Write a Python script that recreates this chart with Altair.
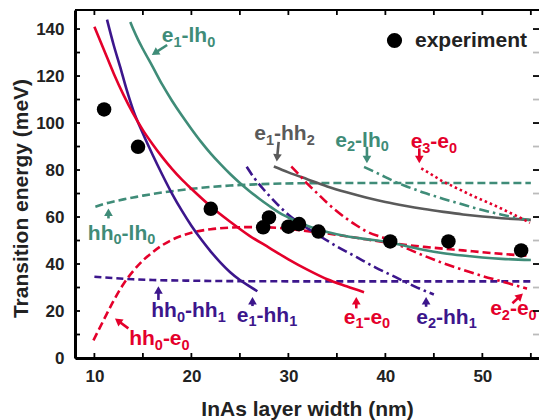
import math
import altair as alt
import pandas as pd

FONT = "Liberation Sans, Arial, Helvetica, sans-serif"
GREEN = "#3f8c78"
RED = "#e4002b"
PURPLE = "#3c168c"
GRAY = "#5a5a5a"
TXT = "#222222"

# ---------------- data ----------------
exp_x = [11.0, 14.5, 22.0, 27.4, 28.0, 30.0, 31.1, 33.1, 40.5, 46.5, 54.0]
exp_y = [105.8, 89.9, 63.5, 55.6, 59.8, 55.9, 57.0, 53.8, 49.6, 49.6, 45.8]

e1_e0_x = [10.0, 11, 12, 13, 14, 15, 16, 17, 18, 19, 20, 22, 24, 26, 28, 30, 32, 34, 36, 37.8]
e1_e0_y = [141, 131, 121, 112, 104, 97, 91, 85.5, 80.5, 76, 72, 64.5, 58, 52, 47, 42, 37.5, 33.5, 30.5, 28]

e1_hh1_x = [11.3, 12, 12.65, 13.3, 14, 15, 16, 17, 18, 19, 20, 21, 22, 23, 24, 25, 26, 26.8]
e1_hh1_y = [144, 133, 124, 114.5, 105.5, 95.5, 86.5, 78, 70, 62.8, 56.3, 50.5, 45.3, 40.6, 36.5, 33.2, 30.5, 28.4]

e1_lh0_x = [13.7, 14, 14.5, 15, 16, 17, 18, 19, 20, 21, 22, 23, 24, 25, 26, 27, 28, 29, 30, 31, 32, 33, 34, 36, 38, 40, 42, 44, 46, 48, 50, 52, 55]
e1_lh0_y = [143, 140, 135.5, 131.5, 124, 116.3, 109.5, 103.3, 97.5, 92, 87, 82.5, 78.3, 74.5, 71, 67.8, 64.8, 62, 59.8, 57.8, 56.2, 54.8, 53.6, 51.8, 50.6, 49.5, 47.8, 46, 44.6, 43.6, 42.8, 42.2, 41.7]

hh0_e0_x = [9.9, 11, 12, 13, 14, 15, 16, 17, 18, 19, 20, 22, 24, 26, 28, 30, 32, 34, 36, 38, 40, 42, 44, 46, 48, 50, 52, 54.9]
hh0_e0_y = [7.5, 16.5, 24.5, 31.5, 37, 41.5, 45, 48, 50.3, 52, 53.3, 54.8, 55.5, 55.7, 55.6, 55, 54, 53, 51.8, 50.5, 49.3, 48.2, 47.3, 46.5, 45.8, 45, 44.3, 43.4]

hh0_lh0_x = [10.1, 11, 12, 13, 14, 15, 16, 18, 20, 22, 24, 26, 28, 32, 40, 55]
hh0_lh0_y = [64.4, 65.6, 66.6, 67.5, 68.3, 69.1, 69.8, 71, 72, 72.8, 73.4, 73.8, 74.1, 74.4, 74.5, 74.5]

hh0_hh1_x = [10, 12, 14, 16, 20, 25, 35, 55]
hh0_hh1_y = [34.6, 34, 33.5, 33.2, 32.9, 32.7, 32.6, 32.6]

e2_hh1_x = [25.7, 26.5, 27.5, 28.5, 30, 31.5, 33, 35, 37, 39, 41, 43, 45]
e2_hh1_y = [81.4, 76.5, 71.5, 67, 61, 56.5, 52.5, 47.5, 43, 38.5, 34.5, 30.5, 27]

e2_e0_x = [30.3, 31, 32, 33, 34, 35, 36, 37, 38, 40, 42, 44, 46, 48, 50, 52, 54.6]
e2_e0_y = [81.5, 78.5, 74, 70, 66, 62.5, 59.3, 56.5, 54, 50.8, 47, 43.5, 40.3, 37.5, 34.9, 32.6, 29.5]

e1_hh2_x = [28.5, 30, 32, 34, 36, 38, 40, 42, 44, 46, 48, 50, 52, 55]
e1_hh2_y = [81.5, 79, 76, 73, 70.5, 68.3, 66.4, 64.8, 63.4, 62.2, 61.1, 60.2, 59.5, 58.8]

e2_lh0_x = [37.8, 39, 40, 41, 42, 43, 44, 45, 46, 47, 48, 49, 50, 52, 54, 54.9]
e2_lh0_y = [81.3, 79, 77, 75, 73.3, 71.8, 70.3, 69, 67.7, 66.5, 65.3, 64.1, 63, 61, 59.3, 58.7]

e3_e0_x = [43.7, 45, 46, 47, 48, 49, 50, 51, 52, 53, 54, 54.9]
e3_e0_y = [80.7, 77.5, 75, 73, 71, 69, 67.2, 65.4, 63.5, 61.5, 59.5, 57.5]

# curve labels ("_" marks a one-character subscript)
lab_text = ["e_1-lh_0", "e_1-hh_2", "e_2-lh_0", "e_3-e_0", "hh_0-lh_0", "hh_0-hh_1",
            "e_1-hh_1", "e_1-e_0", "e_2-hh_1", "e_2-e_0", "hh_0-e_0"]
lab_x = [19.7, 29.6, 37.6, 45.0, 12.8, 19.7, 27.8, 38.1, 46.3, 53.2, 16.7]
lab_y = [137.4, 95.7, 92.8, 92.3, 53.2, 20.4, 18.3, 17.6, 17.6, 21.1, 8.5]
lab_col = [GREEN, GRAY, GREEN, RED, GREEN, PURPLE, PURPLE, RED, PURPLE, RED, RED]

# arrows (tail -> head), in data units
arr_tx = [17.5, 29.0, 38.1, 43.5, 11.45, 16.6, 26.3, 37.0, 44.2, 53.1, 13.5]
arr_ty = [133.2, 92.0, 89.9, 89.2, 59.4, 24.7, 22.1, 21.1, 21.8, 23.3, 12.6]
arr_hx = [15.9, 28.8, 38.1, 43.5, 11.45, 16.6, 26.3, 37.0, 44.2, 54.2, 12.1]
arr_hy = [128.9, 83.5, 82.8, 82.8, 63.7, 30.6, 26.1, 26.1, 26.1, 27.5, 16.9]

x_ticks = [10, 15, 20, 25, 30, 35, 40, 45, 50, 55]
y_ticks = [0, 10, 20, 30, 40, 50, 60, 70, 80, 90, 100, 110, 120, 130, 140]

# ---------------- layout ----------------
W, H = 464, 348
XMIN, XMAX = 8.0, 55.84
YMIN, YMAX = 0.0, 148.1
SX = W / (XMAX - XMIN)
SY = H / (YMAX - YMIN)

xs = alt.Scale(domain=[XMIN, XMAX], nice=False, zero=False)
ys = alt.Scale(domain=[YMIN, YMAX], nice=False, zero=False)

AXX = alt.Axis(
    values=[10, 20, 30, 40, 50], title="InAs layer width (nm)", ticks=False, grid=False,
    domainColor="black", domainWidth=3, labelFont=FONT, labelFontSize=17,
    labelFontWeight="bold", labelColor=TXT, labelPadding=10, titleFont=FONT,
    titleFontSize=21, titleFontWeight="bold", titleColor=TXT, titlePadding=14)
AXY = alt.Axis(
    values=[0, 20, 40, 60, 80, 100, 120, 140], title="Transition energy (meV)",
    ticks=False, grid=False, domainColor="black", domainWidth=3, labelFont=FONT,
    labelFontSize=17, labelFontWeight="bold", labelColor=TXT, labelPadding=11,
    titleFont=FONT, titleFontSize=21, titleFontWeight="bold", titleColor=TXT,
    titleX=-44, titleY=188)


def X(field):
    return alt.X(field, scale=xs, axis=AXX)


def Y(field):
    return alt.Y(field, scale=ys, axis=AXY)


def curve(xv, yv, color, dash=None):
    df = pd.DataFrame({"x": xv, "y": yv})
    kw = dict(color=color, strokeWidth=2.6, interpolate="monotone", clip=True)
    if dash:
        kw["strokeDash"] = dash
    return alt.Chart(df).mark_line(**kw).encode(x=X("x:Q"), y=Y("y:Q"))


DASH = [8, 4]
DASHDOT = [10, 4, 2.5, 4]
DOT = [2.5, 3]

curves = [
    curve(hh0_lh0_x, hh0_lh0_y, GREEN, DASH),
    curve(hh0_hh1_x, hh0_hh1_y, PURPLE, [7, 4]),
    curve(hh0_e0_x, hh0_e0_y, RED, DASH),
    curve(e1_hh2_x, e1_hh2_y, GRAY),
    curve(e2_lh0_x, e2_lh0_y, GREEN, DASHDOT),
    curve(e3_e0_x, e3_e0_y, RED, DOT),
    curve(e2_hh1_x, e2_hh1_y, PURPLE, DASHDOT),
    curve(e2_e0_x, e2_e0_y, RED, DASHDOT),
    curve(e1_lh0_x, e1_lh0_y, GREEN),
    curve(e1_hh1_x, e1_hh1_y, PURPLE),
    curve(e1_e0_x, e1_e0_y, RED),
]

# experiment points + legend
exp_df = pd.DataFrame({"x": exp_x, "y": exp_y, "series": ["experiment"] * len(exp_x)})
points = alt.Chart(exp_df).mark_circle(size=210, opacity=1).encode(
    x=X("x:Q"), y=Y("y:Q"),
    color=alt.Color("series:N", scale=alt.Scale(domain=["experiment"], range=["black"]),
                    legend=alt.Legend(title=None, orient="none", legendX=309, legendY=20,
                                      labelFont=FONT, labelFontSize=21, labelFontWeight="bold",
                                      labelColor=TXT, symbolSize=230, symbolType="circle",
                                      symbolOpacity=1, symbolStrokeWidth=0, labelOffset=10)),
)

# ticks (inward)
xt = pd.DataFrame({"x": x_ticks})
yt = pd.DataFrame({"y": y_ticks, "major": [v % 20 == 0 for v in y_ticks]})
tick_b = alt.Chart(xt).mark_rule(color="black", strokeWidth=1.8).encode(
    x=X("x:Q"), y=alt.value(H), y2=alt.value(H - 5))
tick_t = alt.Chart(xt).mark_rule(color="black", strokeWidth=1.8).encode(
    x=X("x:Q"), y=alt.value(0), y2=alt.value(5))
tick_l = alt.Chart(yt).mark_rule(color="black", strokeWidth=1.8).encode(
    y=Y("y:Q"), x=alt.value(0), x2=alt.value(5))
tick_r = alt.Chart(yt).mark_rule(strokeWidth=1.8).encode(
    y=Y("y:Q"), x=alt.value(W - 6), x2=alt.value(W),
    color=alt.Color("major:N", scale=alt.Scale(domain=[True, False], range=["black", "#bbbbbb"]),
                    legend=None))
top_line = alt.Chart(pd.DataFrame({"a": [0]})).mark_rule(color="black", strokeWidth=2).encode(
    x=alt.value(0), x2=alt.value(W), y=alt.value(0))

# labels with real subscripts: split into pieces, place each piece by its width
BASE_FS, SUB_FS = 21, 14.5
ADV = {"e": 0.556, "h": 0.611, "l": 0.278, "-": 0.333}
piece_rows = []
for text, lx, ly, col in zip(lab_text, lab_x, lab_y, lab_col):
    pieces = []
    i = 0
    while i < len(text):
        if text[i] == "_":
            pieces.append((text[i + 1], True))
            i += 2
        else:
            j = i
            while j < len(text) and text[j] != "_":
                j += 1
            pieces.append((text[i:j], False))
            i = j
    widths = [sum(ADV.get(ch, 0.556) for ch in s) * (SUB_FS if sub else BASE_FS) for s, sub in pieces]
    left = -sum(widths) / 2
    for (s, sub), w in zip(pieces, widths):
        piece_rows.append({"x": lx + left / SX, "y": ly, "t": s, "c": col, "sub": sub})
        left += w
pieces_df = pd.DataFrame(piece_rows)
base_df = pieces_df[~pieces_df["sub"]].drop(columns="sub")
sub_df = pieces_df[pieces_df["sub"]].drop(columns="sub")
labels_base = alt.Chart(base_df).mark_text(
    font=FONT, fontSize=BASE_FS, fontWeight="bold", align="left", baseline="alphabetic", dy=7
).encode(x=X("x:Q"), y=Y("y:Q"), text="t:N", color=alt.Color("c:N", scale=None))
labels_sub = alt.Chart(sub_df).mark_text(
    font=FONT, fontSize=SUB_FS, fontWeight="bold", align="left", baseline="alphabetic", dy=11.5
).encode(x=X("x:Q"), y=Y("y:Q"), text="t:N", color=alt.Color("c:N", scale=None))

# arrows
R = 4.0
rows = []
for tx, ty, hx, hy, c in zip(arr_tx, arr_ty, arr_hx, arr_hy, lab_col):
    dxp = (hx - tx) * SX
    dyp = -(hy - ty) * SY
    L = math.hypot(dxp, dyp)
    ux, uy = dxp / L, dyp / L
    ang = math.degrees(math.atan2(ux, -uy)) % 360
    cx = hx - R * ux / SX
    cy = hy + R * uy / SY
    rows.append({"x": tx, "y": ty, "cx": cx, "cy": cy, "ang": ang, "c": c})
arr_df = pd.DataFrame(rows)
shafts = alt.Chart(arr_df).mark_rule(strokeWidth=2.6).encode(
    x=X("x:Q"), y=Y("y:Q"), x2="cx:Q", y2="cy:Q", color=alt.Color("c:N", scale=None))
heads = alt.Chart(arr_df).mark_point(shape="triangle-up", filled=True, size=75, opacity=1).encode(
    x=X("cx:Q"), y=Y("cy:Q"),
    angle=alt.Angle("ang:Q", scale=None), color=alt.Color("c:N", scale=None))

chart = alt.layer(
    *curves, points, shafts, heads, labels_base, labels_sub,
    tick_b, tick_t, tick_l, tick_r, top_line
).properties(
    width=W, height=H,
    autosize=alt.AutoSizeParams(type="none"),
    padding={"left": 67, "top": 2, "right": 0, "bottom": 62},
).resolve_scale(color="independent").configure_view(stroke=None).configure(background="white")

chart.save("out.html", embed_options={"renderer": "svg", "actions": False})
